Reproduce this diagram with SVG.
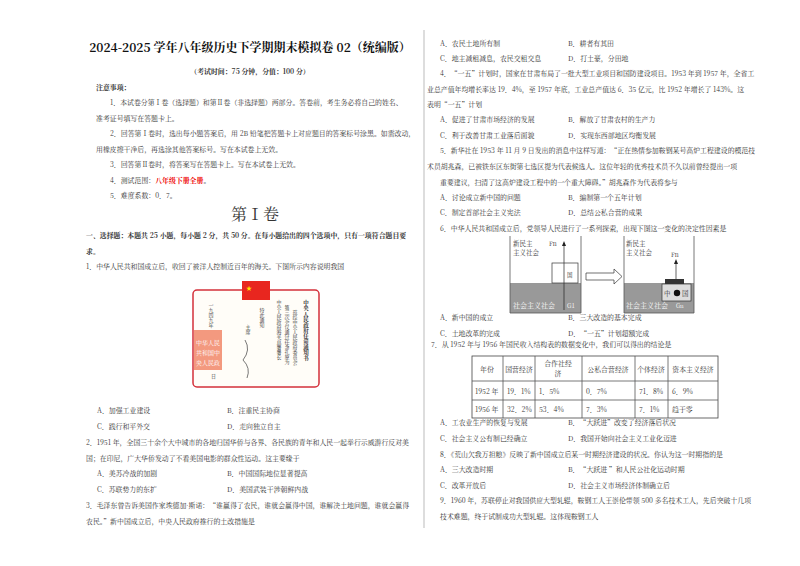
<svg xmlns="http://www.w3.org/2000/svg" width="800" height="566" viewBox="0 0 800 566">
<style>
text{font-family:"Noto Serif CJK SC","Liberation Serif","Noto Sans CJK SC",serif;font-size:6.9px;fill:#333}
.b{font-weight:bold}
.t{font-size:12px;font-weight:bold;fill:#111}
.c{text-anchor:middle}
.ln{stroke:#555;stroke-width:0.8;fill:none}
.d{font-size:6.5px}
</style>
<rect width="800" height="566" fill="#fff"/>
<line x1="424" y1="30" x2="424" y2="528" stroke="#bbb" stroke-width="1"/>
<g id="left">
<text x="250" y="52" class="t c">2024-2025 学年八年级历史下学期期末模拟卷 02（统编版）</text>
<text x="250" y="74" class="c b">（考试时间：75 分钟，分值：100 分）</text>
<text x="96" y="90" class="b">注意事项：</text>
<text x="110" y="105">1．本试卷分第Ⅰ卷（选择题）和第Ⅱ卷（非选择题）两部分。答卷前，考生务必将自己的姓名、</text>
<text x="96" y="121">准考证号填写在答题卡上。</text>
<text x="110" y="136">2．回答第Ⅰ卷时，选出每小题答案后，用 2B 铅笔把答题卡上对应题目的答案标号涂黑。如需改动，</text>
<text x="96" y="152">用橡皮擦干净后，再选涂其他答案标号。写在本试卷上无效。</text>
<text x="110" y="167">3．回答第Ⅱ卷时，将答案写在答题卡上。写在本试卷上无效。</text>
<text x="110" y="183">4．测试范围：<tspan fill="#e00" font-weight="bold">八年级下册全册</tspan>。</text>
<text x="110" y="198">5．难度系数：0．7。</text>
<text x="255" y="220" class="c" style="font-size:16px">第Ⅰ卷</text>
<text x="86" y="238" class="b">一、选择题：本题共 25 小题，每小题 2 分，共 50 分。在每小题给出的四个选项中，只有一项符合题目要</text>
<text x="86" y="254" class="b">求。</text>
<text x="86" y="269">1．中华人民共和国成立后，收回了被洋人控制近百年的海关。下图所示内容说明我国</text>
<g id="document">
<rect x="193" y="290" width="126" height="97" rx="4" fill="#fffdf8" stroke="#d4303a" stroke-width="1.5"/>
<rect x="242" y="281" width="28" height="19" fill="#e8261f"/>
<text x="246" y="290" style="font-size:6px;fill:#ffde00">★</text>
<rect x="194" y="330" width="28" height="40" fill="#f08060" opacity="0.8"/>
<text x="208" y="345" class="c" style="font-size:6px;fill:#fff">中华人民</text>
<text x="208" y="355" class="c" style="font-size:6px;fill:#fff">共和国中</text>
<text x="208" y="365" class="c" style="font-size:6px;fill:#fff">央人民政</text>
<text x="306" y="300" style="font-size:5.5px;writing-mode:tb" class="b">中央人民政府任命通知书</text>
<text x="295" y="310" style="font-size:5px;writing-mode:tb">兹经中央人民政府委员会</text>
<text x="287" y="305" style="font-size:5px;writing-mode:tb">第三次会议通过任命孔原为</text>
<text x="279" y="300" style="font-size:5px;writing-mode:tb">中央人民政府海关总署署长</text>
<text x="262" y="308" style="font-size:5px;writing-mode:tb">特此通知</text>
<text x="248" y="325" style="font-size:5px;writing-mode:tb">主席</text>
<path d="M245 340 q6 10 -2 20 q8 8 4 18" class="ln" stroke="#346"/>
<text x="211" y="303" style="font-size:5px;writing-mode:tb">一九四九年</text>
<text x="211" y="378" style="font-size:5px">日</text>
</g>
<text x="97" y="413">A．加强工业建设</text><text x="227" y="413">B．注重民主协商</text>
<text x="97" y="429">C．践行和平外交</text><text x="227" y="429">D．走向独立自主</text>
<text x="86" y="445">2．1951 年，全国三十余个大中城市的各地归国华侨与各界、各民族的青年和人民一起举行示威游行反对美</text>
<text x="86" y="461">国；在印尼，广大华侨发动了不看美国电影的群众性运动。这主要缘于</text>
<text x="97" y="476">A．美苏冷战的加剧</text><text x="227" y="476">B．中国国际地位显著提高</text>
<text x="97" y="492">C．苏联势力的东扩</text><text x="227" y="492">D．美国武装干涉朝鲜内战</text>
<text x="86" y="508">3．毛泽东曾告诉美国作家埃德加·斯诺：“谁赢得了农民，谁就会赢得中国，谁解决土地问题，谁就会赢得</text>
<text x="86" y="524">农民。”新中国成立后，中央人民政府推行的土改措施是</text>
</g>
<g id="right">
<text x="440" y="46">A．农民土地所有制</text><text x="568" y="46">B．耕者有其田</text>
<text x="440" y="61">C．地主减租减息，农民交租交息</text><text x="568" y="61">D．打土豪，分田地</text>
<text x="440" y="76">4．“一五”计划时，国家在甘肃布局了一批大型工业项目和国防建设项目。1953 年到 1957 年，全省工</text>
<text x="427" y="92">业总产值年均增长率达 19．4%，至 1957 年底，工业总产值达 6．35 亿元，比 1952 年增长了 143%。这</text>
<text x="427" y="107">表明“一五”计划</text>
<text x="440" y="122">A．促进了甘肃市场经济的发展</text><text x="568" y="122">B．解放了甘肃农村的生产力</text>
<text x="440" y="138">C．利于改善甘肃工业落后面貌</text><text x="568" y="138">D．实现东西部地区均衡发展</text>
<text x="440" y="153">5．新华社在 1953 年 11 月 9 日发出的消息中这样写道：“正在热情参加鞍钢某号高炉工程建设的模范技</text>
<text x="427" y="169">术员胡兆森，已被铁东区东街第七选区提为代表候选人。这位年轻的优秀技术员不久以前曾经提出一项</text>
<text x="440" y="185">重要建议，扫清了这高炉建设工程中的一个重大障碍。”胡兆森作为代表将参与</text>
<text x="440" y="200">A．讨论成立新中国的问题</text><text x="568" y="200">B．编制第一个五年计划</text>
<text x="440" y="215">C．制定首部社会主义宪法</text><text x="568" y="215">D．总结公私合营的成果</text>
<text x="440" y="231">6．中华人民共和国成立后，党领导人民进行了一系列探索，出现下图这一变化的决定性因素是</text>
<g id="diagram6">
<rect x="510" y="283" width="71" height="30" fill="#999"/>
<path d="M510 236 V313 H581 V236" class="ln" stroke="#333"/>
<text x="513" y="246" class="d">新民主</text><text x="513" y="255" class="d">主义社会</text>
<text x="549" y="246" style="font-size:6px">Fn</text>
<line x1="564" y1="243" x2="564" y2="310" stroke="#222" stroke-width="0.7"/>
<path d="M562 246 L564 241 L566 246Z" fill="#222"/>
<rect x="552" y="263" width="26" height="20" fill="none" stroke="#333" stroke-width="0.7"/>
<text x="567" y="277" style="font-size:5.5px">国</text>
<text x="513" y="308" style="font-size:7px;fill:#fff">社会主义社会</text>
<text x="567" y="308" style="font-size:6px;fill:#fff">G1</text>
<path d="M586 273 H614 V269 L622 276.5 L614 284 V280 H586 Z" fill="#fff" stroke="#333" stroke-width="0.7"/>
<rect x="624" y="283" width="70" height="30" fill="#999"/>
<path d="M624 236 V313 H694 V236" class="ln" stroke="#333"/>
<text x="626" y="246" class="d">新民主</text><text x="626" y="255" class="d">主义社会</text>
<text x="671" y="257" style="font-size:6px">Fn</text>
<line x1="676" y1="262" x2="676" y2="279" stroke="#222" stroke-width="0.7"/>
<path d="M674 264 L676 259 L678 264Z" fill="#222"/>
<rect x="665" y="279" width="19" height="5" fill="#333"/>
<rect x="662" y="284" width="29" height="17" fill="#ddd" stroke="#333" stroke-width="0.7"/>
<text x="664" y="296" style="font-size:6.5px">中</text><circle cx="677" cy="293" r="3.2" fill="#111"/><text x="682" y="296" style="font-size:6.5px">国</text>
<text x="626" y="308" style="font-size:7px;fill:#fff">社会主义社会</text>
<text x="676" y="308" style="font-size:5.5px;fill:#fff">Gn</text>
</g>
<text x="440" y="320">A．新中国的成立</text><text x="568" y="320">B．三大改造的基本完成</text>
<text x="440" y="336">C．土地改革的完成</text><text x="568" y="336">D．“一五”计划超额完成</text>
<text x="431" y="347">7．从 1952 年与 1956 年国民收入结构表的数据变化中，我们可以得出的结论是</text>
<g id="table7">
<rect x="472" y="356" width="246" height="62" fill="none" stroke="#444" stroke-width="0.8"/>
<path d="M472 381 H718 M472 400 H718 M503 356 V418 M535 356 V418 M582 356 V418 M635 356 V418 M668 356 V418" class="ln" stroke="#444"/>
<text x="487" y="372" class="c">年份</text><text x="519" y="372" class="c">国营经济</text>
<text x="558" y="366" class="c">合作社经</text><text x="558" y="376" class="c">济</text>
<text x="608" y="372" class="c">公私合营经济</text><text x="651" y="372" class="c">个体经济</text><text x="693" y="372" class="c">资本主义经济</text>
<text x="475" y="394">1952 年</text><text x="507" y="394">19．1%</text><text x="539" y="394">1．5%</text><text x="586" y="394">0．7%</text><text x="639" y="394">71．8%</text><text x="672" y="394">6．9%</text>
<text x="475" y="412">1956 年</text><text x="507" y="412">32．2%</text><text x="539" y="412">53．4%</text><text x="586" y="412">7．3%</text><text x="639" y="412">7．1%</text><text x="672" y="412">趋于零</text>
</g>
<text x="440" y="425">A．工农业生产的恢复与发展</text><text x="568" y="425">B．“大跃进”改变了经济落后状况</text>
<text x="440" y="441">C．社会主义公有制已经确立</text><text x="568" y="441">D．我国开始向社会主义工业化迈进</text>
<text x="440" y="457">8．《荒山欠我万担粮》反映了新中国成立后某一时期经济建设的状况。你认为这一时期指的是</text>
<text x="440" y="472">A．三大改造时期</text><text x="568" y="472">B．“大跃进 ”和人民公社化运动时期</text>
<text x="440" y="488">C．改革开放后</text><text x="568" y="488">D．社会主义市场经济体制确立后</text>
<text x="440" y="503">9．1960 年，苏联停止对我国供应大型轧辊，鞍钢工人王崇伦带领 500 多名技术工人，先后突破十几项</text>
<text x="440" y="519">技术难题，终于试制成功大型轧辊。这体现鞍钢工人</text>
</g>
</svg>
